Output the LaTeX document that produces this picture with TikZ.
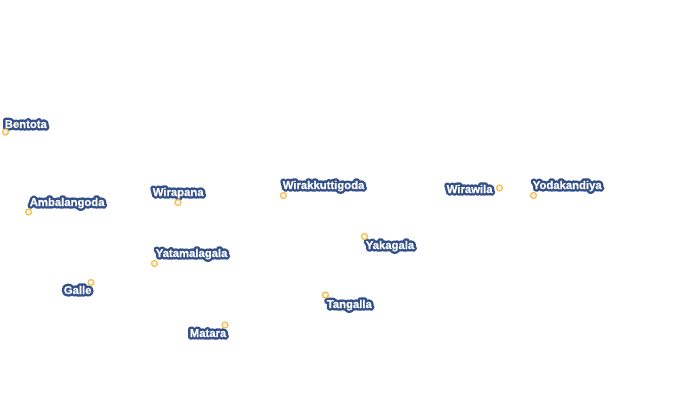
\documentclass[tikz,border=0pt]{standalone}
\usepackage{fontspec}
\setmainfont{Liberation Sans}
\newfontfamily\halofont[FakeBold=45,BoldFont={Liberation Sans Bold},UprightFont={Liberation Sans Bold}]{Liberation Sans Bold}
\newfontfamily\facefont[FakeBold=0.6,BoldFont={Liberation Sans Bold},UprightFont={Liberation Sans Bold}]{Liberation Sans Bold}
\definecolor{halo}{HTML}{34508A}
\definecolor{dotline}{HTML}{F4C24F}
\definecolor{dotfill}{HTML}{F3F4F6}
\newcommand{\halotext}[1]{\leavevmode\special{pdf:code 1 j 1 J}\rlap{\textcolor{halo}{\halofont #1}}\textcolor{white}{\facefont #1}}
\tikzset{
  place/.style={circle,draw=dotline,fill=dotfill,line width=1.3pt,minimum size=6pt,inner sep=0pt},
  placelabel/.style={anchor=base west,inner sep=0pt,font=\fontsize{11.3}{13}\selectfont}
}
\begin{document}
\begin{tikzpicture}[x=1pt,y=-1pt]
\useasboundingbox (0,0) rectangle (700,410);
\node[placelabel] (l1) at (4.6,128) {\halotext{Bentota}};
\node[placelabel] (l2) at (29.6,206) {\halotext{Ambalangoda}};
\node[placelabel] (l3) at (152.6,196) {\halotext{Wirapana}};
\node[placelabel] (l4) at (282.6,189) {\halotext{Wirakkuttigoda}};
\node[placelabel] (l5) at (155.6,257) {\halotext{Yatamalagala}};
\node[placelabel] (l6) at (365.6,249) {\halotext{Yakagala}};
\node[placelabel] (l7) at (446.6,193) {\halotext{Wirawila}};
\node[placelabel] (l8) at (532.6,189) {\halotext{Yodakandiya}};
\node[placelabel] (l9) at (63.6,294) {\halotext{Galle}};
\node[placelabel] (l10) at (326.6,308) {\halotext{Tangalla}};
\node[placelabel] (l11) at (189.6,337) {\halotext{Matara}};
\node[place] (p1) at (5.5,132) {};
\node[place] (p2) at (28.5,212) {};
\node[place] (p3) at (178,202.5) {};
\node[place] (p4) at (283.5,195.5) {};
\node[place] (p5) at (154.5,263.5) {};
\node[place] (p6) at (364.5,236.5) {};
\node[place] (p7) at (499.5,188) {};
\node[place] (p8) at (533.5,195.5) {};
\node[place] (p9) at (91,282.5) {};
\node[place] (p10) at (325.5,295) {};
\node[place] (p11) at (225,325) {};
\end{tikzpicture}
\end{document}
